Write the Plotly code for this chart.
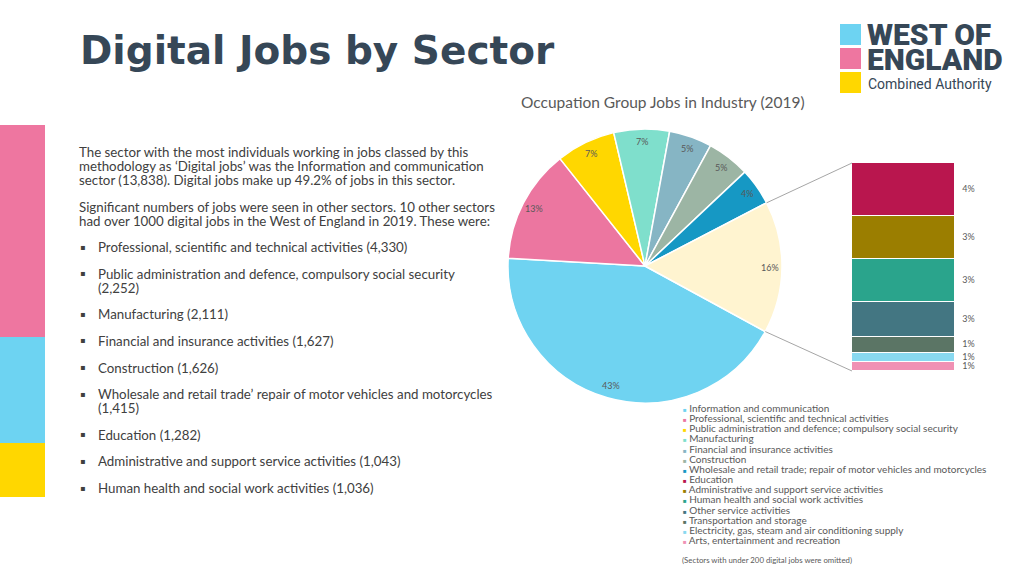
import numpy as np
import plotly.graph_objects as go

# ---------------- data ----------------
pie_labels = [
    "Information and communication",
    "Professional, scientific and technical activities",
    "Public administration and defence; compulsory social security",
    "Manufacturing",
    "Financial and insurance activities",
    "Construction",
    "Wholesale and retail trade; repair of motor vehicles and motorcycles",
]
pie_values = [13838, 4330, 2252, 2111, 1627, 1626, 1415]
pie_colors = ["#6fd3f1", "#ec76a0", "#ffd700", "#7fdfcc", "#86b5c4", "#9cb5a4", "#1698c4"]
other_label = "Other"
other_color = "#fff4d0"

bar_labels = [
    "Education",
    "Administrative and support service activities",
    "Human health and social work activities",
    "Other service activities",
    "Transportation and storage",
    "Electricity, gas, steam and air conditioning supply",
    "Arts, entertainment and recreation",
]
bar_values = [1282, 1043, 1036, 830, 390, 220, 215]
bar_colors = ["#b9164e", "#9b7e00", "#2aa48c", "#437682", "#5b7565", "#89d9f0", "#f091b4"]

bullet_items = [
    (["Professional, scientific and technical activities (4,330)"]),
    (["Public administration and defence, compulsory social security", "(2,252)"]),
    (["Manufacturing (2,111)"]),
    (["Financial and insurance activities (1,627)"]),
    (["Construction (1,626)"]),
    (["Wholesale and retail trade\u2019 repair of motor vehicles and motorcycles", "(1,415)"]),
    (["Education (1,282)"]),
    (["Administrative and support service activities (1,043)"]),
    (["Human health and social work activities (1,036)"]),
]
para1 = [
    "The sector with the most individuals working in jobs classed by this",
    "methodology as \u2018Digital jobs\u2019 was the Information and communication",
    "sector (13,838). Digital jobs make up 49.2% of jobs in this sector.",
]
para2 = [
    "Significant numbers of jobs were seen in other sectors. 10 other sectors",
    "had over 1000 digital jobs in the West of England in 2019. These were:",
]

# ---------------- layout constants ----------------
W, H = 1024, 576
def px(x): return x / W
def py(y): return 1 - y / H

TEXT = "#404040"
GREY = "#595959"
DARK = "#364757"
BODY_FONT = "Lato"

all_pie_values = pie_values + [sum(bar_values)]
all_pie_labels = pie_labels + [other_label]
all_pie_colors = pie_colors + [other_color]
total = sum(all_pie_values)
other_frac = all_pie_values[-1] / total
rotation = 90 + 28.6  # first slice starts just below 3 o'clock

# pie geometry (pixels)
pie_l, pie_r, pie_t, pie_b = 508, 782, 129, 403
cx, cy = (pie_l + pie_r) / 2, (pie_t + pie_b) / 2
R = min(pie_r - pie_l, pie_b - pie_t) / 2

# bar geometry (pixels)
bar_l, bar_r, bar_t, bar_b = 852, 955, 163, 371
ax_r = 990

fig = go.Figure()

fig.add_trace(go.Pie(
    labels=all_pie_labels, values=all_pie_values, sort=False,
    direction="clockwise", rotation=rotation,
    marker=dict(colors=all_pie_colors, line=dict(color="white", width=1.5)),
    textinfo="none", hoverinfo="label+value+percent", showlegend=False,
    domain=dict(x=[px(pie_l), px(pie_r)], y=[py(pie_b), py(pie_t)]),
))

# stacked bar (bottom first)
for lab, val, col in reversed(list(zip(bar_labels, bar_values, bar_colors))):
    fig.add_trace(go.Bar(
        x=[0], y=[val], width=[1], name=lab,
        marker=dict(color=col, line=dict(color="white", width=1.5)),
        showlegend=False, xaxis="x", yaxis="y",
    ))

# bar labels
rev_vals = list(reversed(bar_values))
cum = np.cumsum([0] + rev_vals)
mids = [(cum[i] + cum[i + 1]) / 2 for i in range(len(rev_vals))]
fig.add_trace(go.Scatter(
    x=[0.57] * len(mids), y=mids, mode="text",
    text=[f"{round(100 * v / total):.0f}%" for v in rev_vals],
    textposition="middle right", textfont=dict(family=BODY_FONT, size=9, color=GREY),
    showlegend=False, hoverinfo="skip", cliponaxis=False,
))

span = (ax_r - bar_l) / (bar_r - bar_l)
fig.update_layout(
    xaxis=dict(domain=[px(bar_l), px(ax_r)], range=[-0.5, -0.5 + span], visible=False, fixedrange=True),
    yaxis=dict(domain=[py(bar_b), py(bar_t)], range=[0, sum(bar_values)], visible=False, fixedrange=True),
    barmode="stack", bargap=0,
)

annotations = []
shapes = []

def note(x, y, text, font, xanchor="left"):
    annotations.append(dict(x=px(x), y=py(y), xref="paper", yref="paper",
                            xanchor=xanchor, yanchor="middle", text=text,
                            showarrow=False, font=font))

# pie percentage labels
cumv = 0
for v in all_pie_values:
    a = np.deg2rad(rotation + 360 * (cumv + v / 2) / total)
    rr = R * 0.91
    note(cx + rr * np.sin(a), cy - rr * np.cos(a), f"{round(100 * v / total):.0f}%",
         dict(family=BODY_FONT, size=9, color=GREY), xanchor="center")
    cumv += v

# connector lines
a_top = np.deg2rad(rotation - 360 * other_frac)
a_bot = np.deg2rad(rotation)
for a, yb in [(a_top, bar_t), (a_bot, bar_b)]:
    shapes.append(dict(type="line", xref="paper", yref="paper",
                       x0=px(cx + R * np.sin(a)), y0=py(cy - R * np.cos(a)),
                       x1=px(bar_l), y1=py(yb), line=dict(color="#a6a6a6", width=1)))

# legend (manual)
legend_items = list(zip(pie_labels, pie_colors)) + list(zip(bar_labels, bar_colors))
for i, (lab, col) in enumerate(legend_items):
    note(681, 408 + i * 10.15, f'<span style="color:{col};font-size:6px">\u25a0</span> {lab}',
         dict(family=BODY_FONT, size=10, color=GREY))
note(680, 560, "(Sectors with under 200 digital jobs were omitted)",
     dict(family=BODY_FONT, size=7.8, color=GREY))

# chart subtitle
note(663, 102, "Occupation Group Jobs in Industry (2019)",
     dict(family=BODY_FONT, size=15.5, color=GREY), xanchor="center")

# page title
note(78, 51, "<b>Digital Jobs by Sector</b>", dict(family="DejaVu Sans", size=39, color=DARK))

# logo
for (y0, y1), col in zip([(24, 45), (48, 69), (72, 93)], ["#6dd3f2", "#ee76a0", "#ffd700"]):
    shapes.append(dict(type="rect", xref="paper", yref="paper", x0=px(840), x1=px(861),
                       y0=py(y1), y1=py(y0), fillcolor=col, line=dict(width=0)))
note(865, 34, "WEST OF", dict(family="Roboto", size=30, color=DARK, weight=900))
note(865, 59, "ENGLAND", dict(family="Roboto", size=30, color=DARK, weight=900))
note(866, 84, "Combined Authority", dict(family="Roboto", size=14, color=DARK))

# left decorative bars
for (y0, y1), col in zip([(125, 337), (337, 443), (443, 497)], ["#ee76a0", "#6dd3f2", "#ffd700"]):
    shapes.append(dict(type="rect", xref="paper", yref="paper", x0=0, x1=px(45),
                       y0=py(y1), y1=py(y0), fillcolor=col, line=dict(width=0), layer="below"))

# body text
BODY = 13.3
body_font = dict(family=BODY_FONT, size=BODY, color=TEXT)
for i, line in enumerate(para1):
    note(77, 152 + 14 * i, line, body_font)
for i, line in enumerate(para2):
    note(77, 207 + 14 * i, line, body_font)
extra = 0
for i, lines in enumerate(bullet_items):
    y = 247 + 26.8 * i + 13.4 * extra
    note(78, y, "\u25aa", dict(family="DejaVu Sans", size=8, color=TEXT))
    for j, line in enumerate(lines):
        note(96, y + 14 * j, line, body_font)
    extra += len(lines) - 1

fig.update_layout(
    width=W, height=H, margin=dict(l=0, r=0, t=0, b=0),
    paper_bgcolor="white", plot_bgcolor="white",
    annotations=annotations, shapes=shapes,
)

fig.write_html("out.html", config=dict(displayModeBar=False),
               post_script="document.body.style.margin='0';document.body.style.overflow='hidden';")
